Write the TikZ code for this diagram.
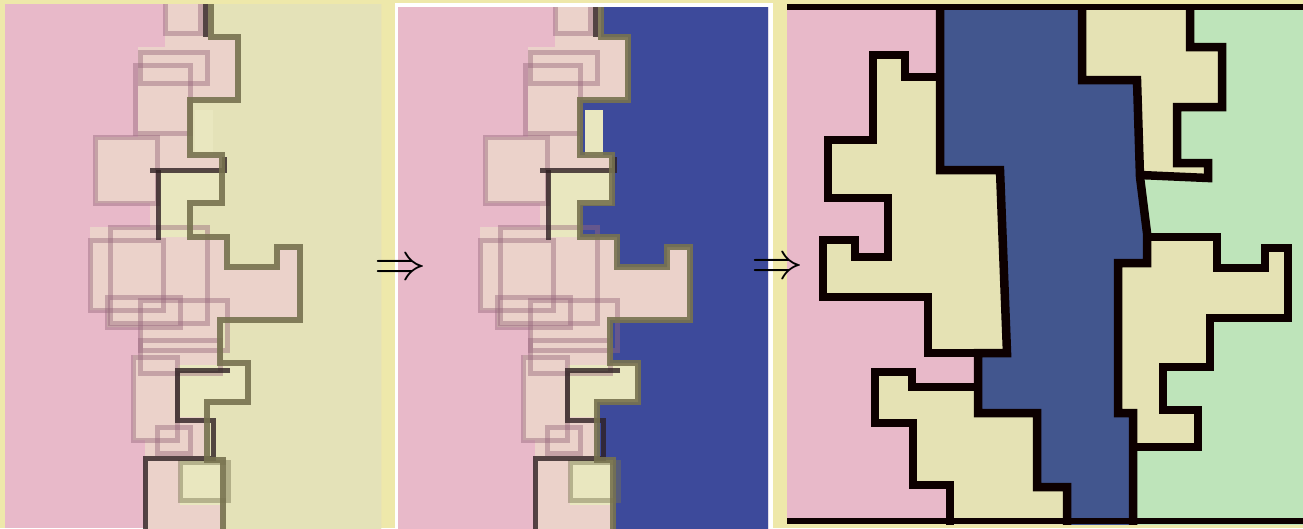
\documentclass[tikz,border=0pt]{standalone}

\definecolor{bgyel}{HTML}{EEE8AA}
\definecolor{pinkA}{HTML}{E8B9C9}
\definecolor{yelA}{HTML}{E4E2B8}
\definecolor{peachA}{HTML}{EBD2CA}
\definecolor{paleyel}{HTML}{E9E7BF}
\definecolor{blueA}{HTML}{3D4A9B}
\definecolor{oliveA}{HTML}{77724F}
\definecolor{plumA}{HTML}{97687C}
\definecolor{darkA}{HTML}{2E2022}
\definecolor{blueC}{HTML}{42568E}
\definecolor{greenC}{HTML}{BEE4BA}
\definecolor{yelC}{HTML}{E5E2B4}

% stepped edge of the first two panels (panel-1 frame)
\newcommand{\edgepath}{(211,0) -- (211,37) -- (238,37) -- (238,100) -- (190,100) -- (190,155) -- (222,155) -- (222,203) -- (190,203) -- (190,237) -- (227,237) -- (227,267) -- (277,267) -- (277,247) -- (300,247) -- (300,320) -- (220,320) -- (220,363) -- (248,363) -- (248,402) -- (207,402) -- (207,460) -- (223,460) -- (223,530)}

% blurred band of boxes, #1 = colour right of the edge
\newcommand{\ghostband}[1]{%
  \fill[peachA] (165,0) -- (165,47) -- (138,47) -- (138,137) -- (95,137) -- (95,203) -- (150,203) -- (150,227) -- (90,227) -- (90,310) -- (107,310) -- (107,327) -- (140,327) -- (140,355) -- (133,355) -- (133,440) -- (145,440) -- (145,530) -- (400,530) -- (400,0) -- cycle;
  \fill[#1] \edgepath -- (400,530) -- (400,0) -- cycle;
  % pale patches
  \fill[paleyel] (195,110) rectangle (213,155);
  \fill[paleyel] (158,170) -- (222,170) -- (222,205) -- (190,205) -- (190,237) -- (158,237) -- cycle;
  \fill[paleyel] (178,365) -- (248,365) -- (248,402) -- (207,402) -- (207,417) -- (178,417) -- cycle;
  \fill[paleyel] (180,460) rectangle (223,505);
  % ghost boxes
  \foreach \xa/\ya/\xb/\yb in {165/-5/200/33, 140/52/207/83, 135/65/190/133, 95/137/157/203,
      110/227/207/323, 90/240/163/310, 107/297/180/327, 140/300/227/350,
      140/340/220/373, 133/357/177/440, 157/427/190/453}
    \draw[ghost] (\xa,\ya) rectangle (\xb,\yb);
  \draw[ghost, draw=oliveA] (180,462) rectangle (228,500);
  % darkest strokes
  \draw[darkline] (205,-5) -- (205,37);
  \draw[darkline] (224,157) -- (224,170) -- (150,170);
  \draw[darkline] (158,170) -- (158,240);
  \draw[darkline] (230,370) -- (177,370) -- (177,420) -- (213,420) -- (213,458) -- (145,458) -- (145,535);
  \draw[edgeline] \edgepath;
}

\begin{document}
\begin{tikzpicture}[
    x=1pt, y=-1pt,
    ghost/.style={draw=plumA, opacity=0.45, line width=5pt},
    darkline/.style={draw=darkA, opacity=0.8, line width=5pt},
    edgeline/.style={draw=oliveA, opacity=0.9, line width=6pt},
    border/.style={draw=black!95!red, line width=8.5pt, line join=miter},
    arrowsym/.style={scale=5.2, inner sep=0pt}
]
    \useasboundingbox (0,0) rectangle (1303,528);
    \fill[bgyel] (0,0) rectangle (1303,528);

    % first panel
    \begin{scope}
      \clip (5,4) rectangle (381,528);
      \fill[pinkA] (5,4) rectangle (381,528);
      \ghostband{yelA}
    \end{scope}

    % second panel
    \fill[white] (395,3) rectangle (773,528);
    \begin{scope}
      \clip (398,7) rectangle (768,528);
      \begin{scope}[xshift=390pt]
        \fill[pinkA] (0,0) rectangle (400,530);
        \ghostband{blueA}
      \end{scope}
    \end{scope}

    % third panel
    \begin{scope}
      \clip (787,4) rectangle (1303,524);
      \fill[pinkA] (787,4) rectangle (1303,524);
      \fill[greenC] (1082,0) -- (1303,0) -- (1303,530) -- (1133,530) -- (1133,413) -- (1118,413) -- (1118,263) -- (1147,263) -- (1147,233) -- (1140,177) -- (1137,80) -- (1082,80) -- cycle;
      \fill[blueC] (940,0) -- (940,170) -- (1000,170) -- (1007,353) -- (978,353) -- (978,413) -- (1037,413) -- (1037,487) -- (1067,487) -- (1067,530)
        -- (1133,530) -- (1133,413) -- (1118,413) -- (1118,263) -- (1147,263) -- (1147,233) -- (1140,177) -- (1137,80) -- (1082,80) -- (1082,0) -- cycle;
      % yellow regions
      \fill[yelC] (1082,0) -- (1190,0) -- (1190,47) -- (1222,47) -- (1222,107) -- (1177,107) -- (1177,163) -- (1208,163) -- (1208,178) -- (1140,175) -- (1137,80) -- (1082,80) -- cycle;
      \fill[yelC] (1147,237) -- (1217,237) -- (1217,268) -- (1265,268) -- (1265,248) -- (1288,248) -- (1288,318) -- (1210,318) -- (1210,367) -- (1163,367) -- (1163,410) -- (1198,410) -- (1198,447) -- (1133,447) -- (1133,413) -- (1118,413) -- (1118,263) -- (1147,263) -- cycle;
      \fill[yelC] (940,77) -- (905,77) -- (905,55) -- (873,55) -- (873,140) -- (828,140) -- (828,198) -- (888,198) -- (888,257) -- (855,257) -- (855,240) -- (823,240) -- (823,297) -- (928,297) -- (928,353) -- (1007,353) -- (1000,170) -- (940,170) -- cycle;
      \fill[yelC] (978,387) -- (912,387) -- (912,372) -- (875,372) -- (875,423) -- (913,423) -- (913,485) -- (950,485) -- (950,530) -- (1067,530) -- (1067,487) -- (1037,487) -- (1037,413) -- (978,413) -- cycle;
      % outlines
      \draw[border] (940,0) -- (940,170) -- (1000,170) -- (1007,353) -- (978,353) -- (978,413) -- (1037,413) -- (1037,487) -- (1067,487) -- (1067,530);
      \draw[border] (1082,0) -- (1082,80) -- (1137,80) -- (1140,177) -- (1147,233) -- (1147,263) -- (1118,263) -- (1118,413) -- (1133,413) -- (1133,530);
      \draw[border] (1190,0) -- (1190,47) -- (1222,47) -- (1222,107) -- (1177,107) -- (1177,163) -- (1208,163) -- (1208,178) -- (1140,175);
      \draw[border] (1147,237) -- (1217,237) -- (1217,268) -- (1265,268) -- (1265,248) -- (1288,248) -- (1288,318) -- (1210,318) -- (1210,367) -- (1163,367) -- (1163,410) -- (1198,410) -- (1198,447) -- (1133,447);
      \draw[border] (940,77) -- (905,77) -- (905,55) -- (873,55) -- (873,140) -- (828,140) -- (828,198) -- (888,198) -- (888,257) -- (855,257) -- (855,240) -- (823,240) -- (823,297) -- (928,297) -- (928,353) -- (1007,353);
      \draw[border] (978,387) -- (912,387) -- (912,372) -- (875,372) -- (875,423) -- (913,423) -- (913,485) -- (950,485) -- (950,530);
    \end{scope}
    \draw[black!95!red, line width=6pt] (787,7) -- (1303,7);
    \draw[black!95!red, line width=6pt] (787,521) -- (1303,521);

    % arrows between panels
    \node[arrowsym] (step1) at (400,270) {$\Rightarrow$};
    \node[arrowsym] (step2) at (777,269) {$\Rightarrow$};
\end{tikzpicture}
\end{document}
